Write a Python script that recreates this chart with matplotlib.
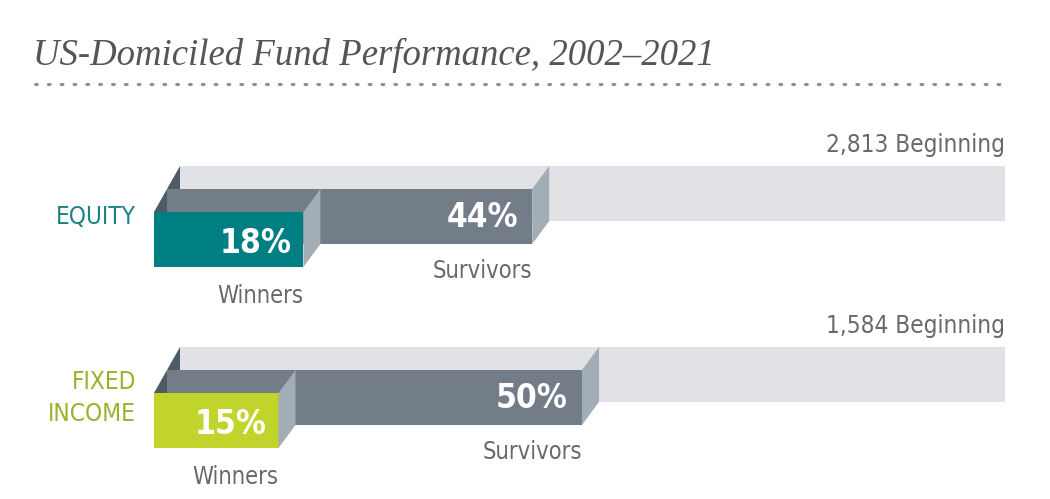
import matplotlib.pyplot as plt
from matplotlib.patches import Polygon, Rectangle

# data
categories = ["EQUITY", "FIXED\nINCOME"]
winners_pct = [18, 15]
survivors_pct = [44, 50]
beginning_counts = [2813, 1584]
cat_colors = ["#007f82", "#c1d42b"]
label_colors = ["#1a8386", "#9cb02c"]

# colours
back_col = "#e1e2e5"
surv_col = "#737d88"
side_col = "#a3adb6"
slate_col = "#4d5b67"
text_gray = "#666a6e"

plt.rcParams['font.family'] = ['DejaVu Sans']

fig = plt.figure(figsize=(10.5, 4.99), dpi=100)
ax = fig.add_axes([0, 0, 1, 1])
ax.set_xlim(0, 1050)
ax.set_ylim(499, 0)
ax.axis("off")

# title + dotted rule
ax.text(33, 55, "US-Domiciled Fund Performance, 2002\u20132021", fontsize=26.5,
        family="Liberation Serif", style="italic", color="#555555", va="center")
ax.plot([35, 1005], [84, 84], color="#8f8f8f", lw=2.2, ls=(0, (0.6, 3.6)),
        dash_capstyle="round")

x0 = 154      # left of front face
scale = 8.3   # px per percent
h = 55        # bar height
dy = 23       # depth step (vertical)
a = 13        # left step
b = 17        # right depth
tops = [212, 393]

cond = dict(family="DejaVu Sans", stretch="condensed")

for i, cat in enumerate(categories):
    T = tops[i]
    rw = x0 + winners_pct[i] * scale
    rs = x0 + a + survivors_pct[i] * scale
    # back bar (all funds at start)
    ax.add_patch(Rectangle((x0 + 2 * a, T - 2 * dy), 1005 - (x0 + 2 * a), h,
                           color=back_col, lw=0))
    # survivors
    ax.add_patch(Rectangle((x0 + a, T - dy), rs - (x0 + a), h, color=surv_col, lw=0))
    ax.add_patch(Polygon([(rs, T - dy), (rs + b, T - 2 * dy), (rs + b, T - 2 * dy + h),
                          (rs, T - dy + h)], closed=True, color=side_col, lw=0))
    # winners
    ax.add_patch(Rectangle((x0, T), rw - x0, h, color=cat_colors[i], lw=0))
    ax.add_patch(Polygon([(rw, T), (rw + b, T - dy), (rw + b, T - dy + h), (rw, T + h)],
                         closed=True, color=side_col, lw=0))
    # left slate face
    ax.add_patch(Polygon([(x0, T), (x0 + 2 * a, T - 2 * dy), (x0 + 2 * a, T - dy),
                          (x0 + a, T - dy), (x0 + a, T)], closed=True, color=slate_col, lw=0))

    # texts
    ax.text(1005, T - 2 * dy - 21, f"{beginning_counts[i]:,} Beginning", fontsize=17.5,
            color=text_gray, ha="right", va="center", **cond)
    ax.text(rs - 14, T - dy + h / 2 + 1, f"{survivors_pct[i]}%", fontsize=24,
            color="white", weight="bold", ha="right", va="center", **cond)
    ax.text(rw - 12, T + h / 2 + 4, f"{winners_pct[i]}%", fontsize=24,
            color="white", weight="bold", ha="right", va="center", **cond)
    ax.text(rs, T - dy + h + 27, "Survivors", fontsize=17, color=text_gray,
            ha="right", va="center", **cond)
    ax.text(rw, T + h + 29, "Winners", fontsize=17, color=text_gray,
            ha="right", va="center", **cond)
    ax.text(136, T + 5, cat, fontsize=17.5, color=label_colors[i],
            ha="right", va="center", linespacing=1.45, **cond)

fig.savefig("out.png", dpi=100)
